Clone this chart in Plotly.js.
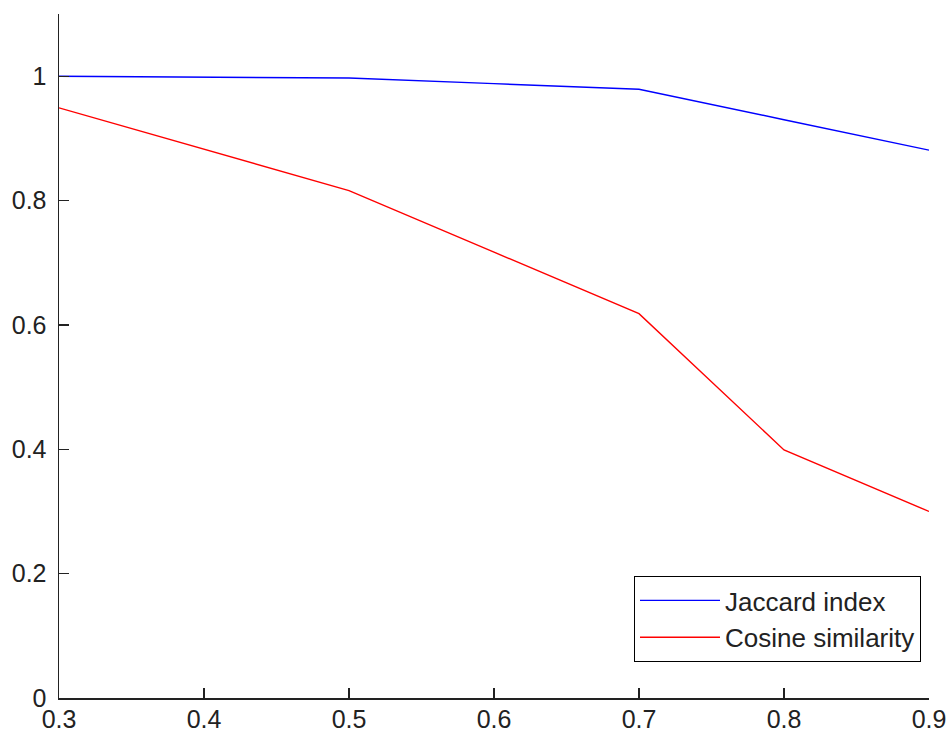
<!DOCTYPE html>
<html>
<head>
<meta charset="utf-8">
<script src="https://cdn.plot.ly/plotly-3.0.1.min.js"></script>
<style>html,body{margin:0;padding:0;background:#fff;}#chart{width:948px;height:733px;}</style>
</head>
<body>
<div id="chart"></div>
<script>
const thresholds = [0.3, 0.4, 0.5, 0.6, 0.7, 0.8, 0.9];
const jaccardIndex = [1.0, 0.999, 0.997, 0.988, 0.979, 0.930, 0.881];
const cosineSimilarity = [0.949, 0.883, 0.816, 0.717, 0.618, 0.399, 0.300];
const seriesNames = ["Jaccard index", "Cosine similarity"];
const xTicks = [0.3, 0.4, 0.5, 0.6, 0.7, 0.8, 0.9];
const yTicks = [0, 0.2, 0.4, 0.6, 0.8, 1];

const font = {family: "Liberation Sans, Arial, sans-serif", size: 26, color: "#222"};
const tickFont = {family: "Liberation Sans, Arial, sans-serif", size: 25, color: "#222"};

const traces = [
  {x: thresholds, y: jaccardIndex, name: seriesNames[0], mode: "lines", line: {color: "#0000ff", width: 1.4}},
  {x: thresholds, y: cosineSimilarity, name: seriesNames[1], mode: "lines", line: {color: "#ff0000", width: 1.4}}
];

const layout = {
  width: 948, height: 733,
  margin: {l: 59, r: 19, t: 14, b: 35, pad: 0},
  paper_bgcolor: "#fff", plot_bgcolor: "#fff",
  font: font,
  showlegend: true,
  legend: {
    x: 0.9908, y: 0.0526, xanchor: "right", yanchor: "bottom",
    bordercolor: "#000", borderwidth: 1, bgcolor: "#fff",
    font: font, tracegroupgap: 0, itemwidth: 80
  },
  xaxis: {
    range: [0.3, 0.9], tickvals: xTicks, ticktext: xTicks.map(v => v.toFixed(1)),
    showgrid: false, zeroline: false, showline: true, linecolor: "#222", linewidth: 1.5,
    ticks: "inside", ticklen: 10, tickcolor: "#222", tickwidth: 1.2,
    ticklabelstandoff: -2, tickfont: tickFont, mirror: false
  },
  yaxis: {
    range: [0, 1.1], tickvals: yTicks, ticktext: yTicks.map(v => String(v)),
    showgrid: false, zeroline: false, showline: true, linecolor: "#222", linewidth: 1.5,
    ticks: "inside", ticklen: 10, tickcolor: "#222", tickwidth: 1.2,
    ticklabelstandoff: 6, tickfont: tickFont, mirror: false
  }
};

Plotly.newPlot("chart", traces, layout, {displayModeBar: false, staticPlot: true});
</script>
</body>
</html>
